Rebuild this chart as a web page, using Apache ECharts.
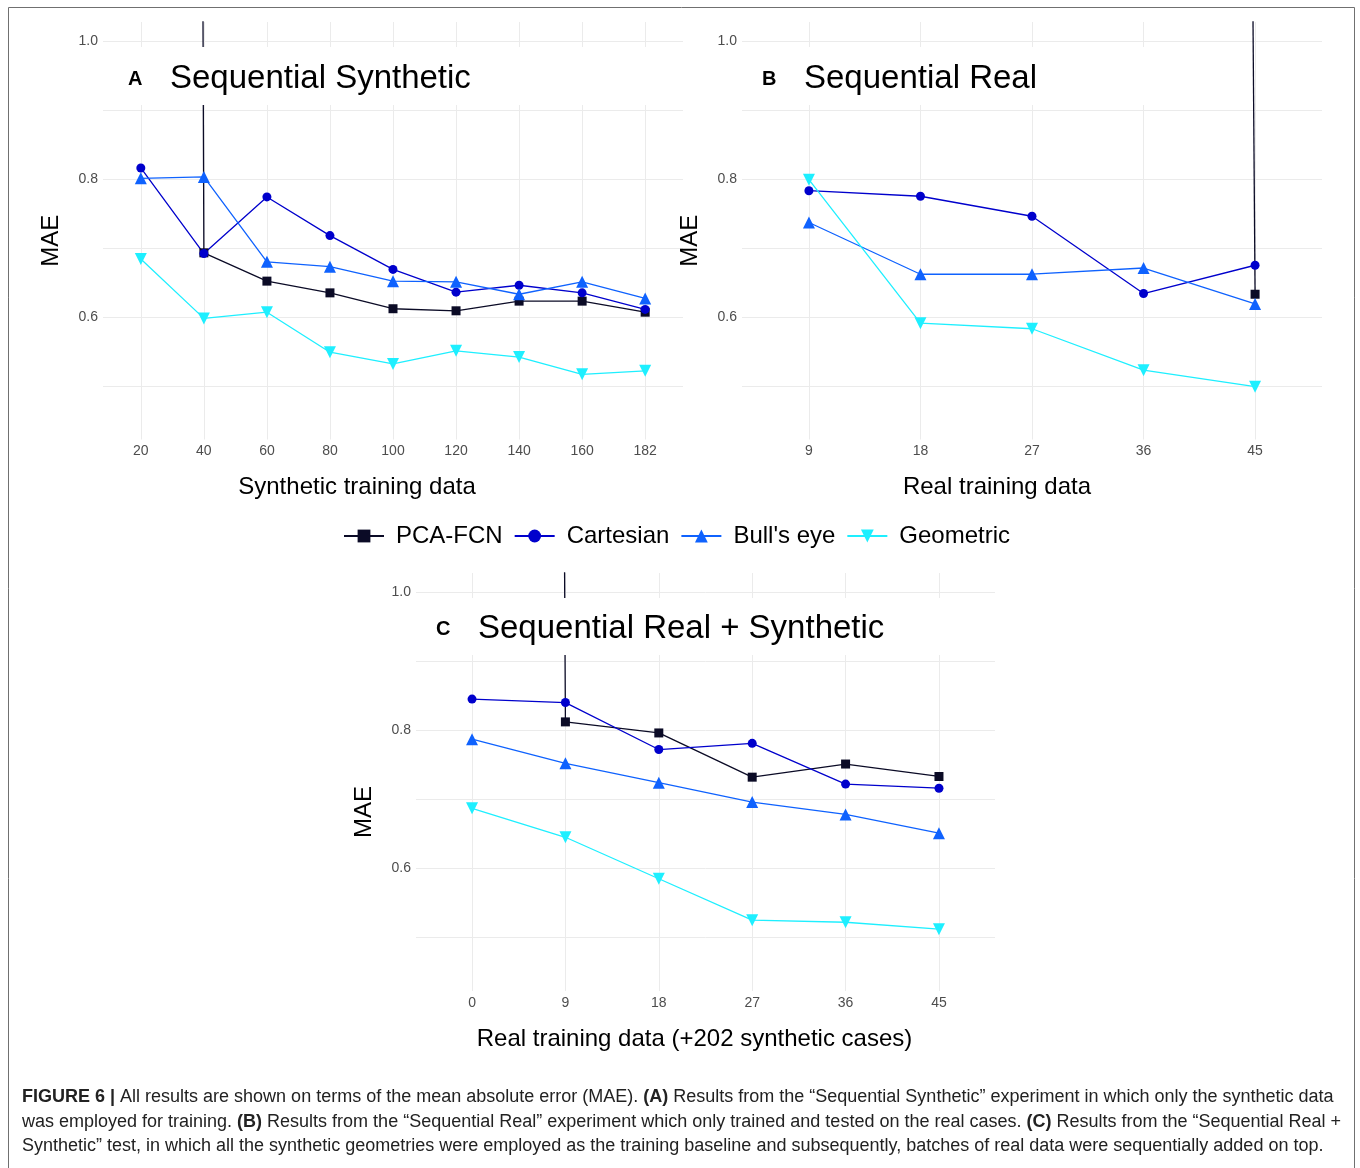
<!DOCTYPE html>
<html>
<head>
<meta charset="utf-8">
<script src="https://cdn.jsdelivr.net/npm/echarts@6/dist/echarts.min.js"></script>
<style>
  html, body { margin: 0; padding: 0; background: #fff; }
  #chart { width: 1360px; height: 1168px; }
</style>
</head>
<body>
<div id="chart"></div>
<script>
// x categories of each panel
var catsA = ['20', '40', '60', '80', '100', '120', '140', '160', '182'];
var catsB = ['9', '18', '27', '36', '45'];
var catsC = ['0', '9', '18', '27', '36', '45'];

// MAE values (first PCA-FCN points are far above the visible range)
var pcaA       = [25, 0.693, 0.652, 0.635, 0.612, 0.609, 0.623, 0.623, 0.607];
var cartesianA = [0.816, 0.692, 0.774, 0.718, 0.669, 0.636, 0.646, 0.635, 0.611];
var bullsA     = [0.801, 0.803, 0.680, 0.673, 0.652, 0.651, 0.633, 0.651, 0.627];
var geomA      = [0.684, 0.598, 0.607, 0.549, 0.532, 0.551, 0.542, 0.517, 0.522];

var pcaB       = [null, null, null, 22, 0.633];
var cartesianB = [0.783, 0.775, 0.746, 0.634, 0.675];
var bullsB     = [0.737, 0.662, 0.662, 0.671, 0.619];
var geomB      = [0.799, 0.591, 0.583, 0.523, 0.499];

var pcaC       = [25, 0.812, 0.796, 0.732, 0.751, 0.733];
var cartesianC = [0.845, 0.840, 0.772, 0.781, 0.722, 0.716];
var bullsC     = [0.787, 0.752, 0.724, 0.696, 0.678, 0.651];
var geomC      = [0.687, 0.645, 0.585, 0.525, 0.522, 0.512];

var yTicks = [0.6, 0.8, 1.0];
var names = ['PCA-FCN', 'Cartesian', "Bull's eye", 'Geometric'];
var colors = ['#0b0b26', '#0000cc', '#0f62fe', '#1eefff'];

var chart = echarts.init(document.getElementById('chart'));
var font = '"Liberation Sans", Arial, Helvetica, sans-serif';
var gridColor = '#ebebeb';

function pairs(vals) {
  return vals.map(function (v, i) { return [i, v]; });
}

function xAxis(idx, cats, name, namePad) {
  return {
    type: 'value', gridIndex: idx,
    min: -0.6, max: cats.length - 1 + 0.6,
    minInterval: 1, maxInterval: 1,
    axisLine: { show: false }, axisTick: { show: false },
    axisLabel: {
      margin: 5, color: '#4d4d4d', fontSize: 14, fontFamily: font,
      formatter: function (v) {
        var r = Math.round(v);
        if (Math.abs(v - r) > 1e-6 || r < 0 || r >= cats.length) return '';
        return cats[r];
      }
    },
    splitLine: { show: true, showMinLine: false, showMaxLine: false, lineStyle: { color: gridColor, width: 1 } },
    name: name, nameLocation: 'middle', nameGap: 36,
    nameTextStyle: { fontSize: 24, color: '#000', fontFamily: font, padding: [0, namePad, 0, 0] }
  };
}

function yAxis(idx, namePad) {
  return {
    type: 'value', gridIndex: idx,
    min: 0.4225, max: 1.0275,
    minInterval: 0.1, maxInterval: 0.1,
    axisLine: { show: false }, axisTick: { show: false },
    axisLabel: {
      margin: 5, color: '#4d4d4d', fontSize: 14, fontFamily: font,
      formatter: function (v) {
        var r = Math.round(v * 10);
        if (Math.abs(v * 10 - r) > 1e-6) return '';
        for (var i = 0; i < yTicks.length; i++) {
          if (Math.round(yTicks[i] * 10) === r) return yTicks[i].toFixed(1);
        }
        return '';
      }
    },
    splitLine: { show: true, showMinLine: false, showMaxLine: false, lineStyle: { color: gridColor, width: 1 } },
    name: 'MAE', nameLocation: 'middle', nameGap: 40, nameRotate: 90,
    nameTextStyle: { fontSize: 24, color: '#000', fontFamily: font, padding: [0, namePad, 0, 0] }
  };
}

function lineSeries(idx, k, vals) {
  var symbols = ['rect', 'circle', 'triangle', 'triangle'];
  var sizes = [9, 9, 12, 12];
  return {
    name: names[k], type: 'line', xAxisIndex: idx, yAxisIndex: idx,
    data: pairs(vals),
    symbol: symbols[k], symbolSize: sizes[k], symbolRotate: k === 3 ? 180 : 0,
    showAllSymbol: true, clip: true,
    lineStyle: { color: colors[k], width: 1.3 },
    itemStyle: { color: colors[k] },
    emphasis: { disabled: true },
    animation: false
  };
}

function panelTitle(letter, text, left, top) {
  return {
    left: left, top: top, z: 10, padding: 0,
    text: '{a|' + letter + '}{b|' + text + '}',
    textStyle: {
      fontWeight: 'normal',
      rich: {
        a: { fontSize: 20, fontWeight: 'bold', color: '#000', fontFamily: font, width: 42, lineHeight: 40 },
        b: { fontSize: 33, fontWeight: 'normal', color: '#000', fontFamily: font, lineHeight: 40 }
      }
    }
  };
}

var capNormal = { fontSize: 18, fontFamily: font, fill: '#222' };
var capBold = { fontSize: 18, fontFamily: font, fontWeight: 'bold', fill: '#222' };
function captionLine(text, y) {
  return {
    type: 'text', left: 22, top: y, z: 10,
    style: {
      text: text, fontSize: 18, fontFamily: font, fill: '#222',
      rich: { n: capNormal, b: capBold }
    }
  };
}

var option = {
  backgroundColor: '#fff',
  animation: false,
  title: [
    panelTitle('A', 'Sequential Synthetic', 128, 59),
    panelTitle('B', 'Sequential Real', 762, 59),
    panelTitle('C', 'Sequential Real + Synthetic', 436, 609)
  ],
  legend: {
    data: names, left: 343, top: 524, padding: 0,
    itemWidth: 40, itemHeight: 16, itemGap: 11,
    textStyle: { fontSize: 24, color: '#000', fontFamily: font, padding: [0, 0, 0, 7] }
  },
  grid: [
    { left: 103, top: 22, width: 580, height: 417.5 },
    { left: 742, top: 22, width: 580, height: 417.5 },
    { left: 416, top: 573, width: 579, height: 418 }
  ],
  xAxis: [
    xAxis(0, catsA, 'Synthetic training data', 72),
    xAxis(1, catsB, 'Real training data', 70),
    xAxis(2, catsC, 'Real training data (+202 synthetic cases)', 22)
  ],
  yAxis: [yAxis(0, 20), yAxis(1, 20), yAxis(2, 60)],
  series: [
    lineSeries(0, 0, pcaA), lineSeries(0, 1, cartesianA), lineSeries(0, 2, bullsA), lineSeries(0, 3, geomA),
    lineSeries(1, 0, pcaB), lineSeries(1, 1, cartesianB), lineSeries(1, 2, bullsB), lineSeries(1, 3, geomB),
    lineSeries(2, 0, pcaC), lineSeries(2, 1, cartesianC), lineSeries(2, 2, bullsC), lineSeries(2, 3, geomC)
  ],
  graphic: [
    // white bands behind the panel titles
    { type: 'rect', z: 5, shape: { x: 103, y: 47, width: 580, height: 58 }, style: { fill: '#fff' } },
    { type: 'rect', z: 5, shape: { x: 742, y: 47, width: 460, height: 58 }, style: { fill: '#fff' } },
    { type: 'rect', z: 5, shape: { x: 416, y: 598, width: 579, height: 57 }, style: { fill: '#fff' } },
    // figure frame
    { type: 'rect', z: 1, shape: { x: 8.5, y: 7.5, width: 1346, height: 1175 }, style: { fill: 'none', stroke: '#707070', lineWidth: 1 } },
    captionLine('{b|FIGURE 6 |} All results are shown on terms of the mean absolute error (MAE). {b|(A)} Results from the \u201cSequential Synthetic\u201d experiment in which only the synthetic data', 1088),
    captionLine('was employed for training. {b|(B)} Results from the \u201cSequential Real\u201d experiment which only trained and tested on the real cases. {b|(C)} Results from the \u201cSequential Real +', 1113),
    captionLine('Synthetic\u201d test, in which all the synthetic geometries were employed as the training baseline and subsequently, batches of real data were sequentially added on top.', 1137)
  ]
};

chart.setOption(option);
</script>
</body>
</html>
